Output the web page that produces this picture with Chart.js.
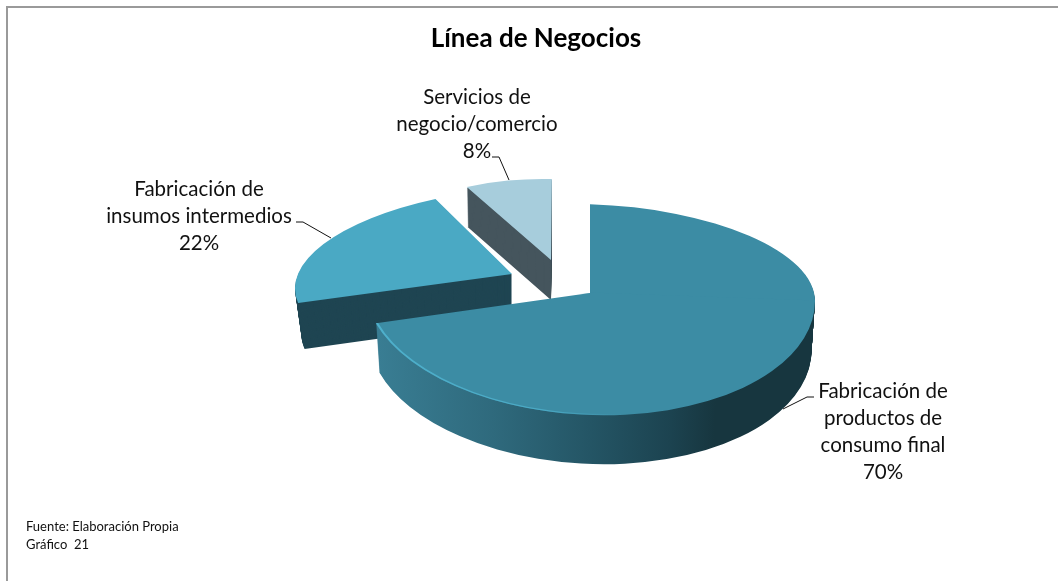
<!DOCTYPE html>
<html lang="es">
<head>
<meta charset="utf-8">
<title>Línea de Negocios</title>
<script src="https://cdn.jsdelivr.net/npm/chart.js@4"></script>
<style>
    html, body { margin: 0; padding: 0; background: #fff; }
    canvas { display: block; }
</style>
</head>
<body>
<canvas id="pieChart" width="1058" height="581"></canvas>
<script>
const categories = ['Fabricación de productos de consumo final', 'Fabricación de insumos intermedios', 'Servicios de negocio/comercio'];
const shares = [70, 22, 8];
const labelLines = [
    ['Fabricación de', 'productos de', 'consumo final'],
    ['Fabricación de', 'insumos intermedios'],
    ['Servicios de', 'negocio/comercio']
];
const footerLines = ['Fuente: Elaboración Propia', 'Gráfico  21'];

const FONT = "Lato, 'Open Sans', sans-serif";
const RADIUS = 225;

const topColors = ['#3c8ca4', '#4aa9c4', '#a7cddc'];
const sideColors = [null, '#1f4552', '#45555d'];

// 3D look: every slice gets its own flattening matrix around its apex (Excel's perspective
// is not a plain ellipse), a, b, c, d as in ctx.transform
const sliceViews = [
    { apex: [590, 293], tilt: 0.035, a: 1, b: 0, c: 0, d: 0.395, dFront: 0.542, depth: 49, foot: 0.985 },
    { apex: [512, 274], tilt: 0, a: 0.955, b: -0.01, c: -0.137, d: 0.386, depth: 46, foot: 0.97 },
    { apex: [551, 260], tilt: 0, a: 0.784, b: 0.019, c: -0.004, d: 0.36, depth: 40, foot: 0.99 }
];

const labelBoxes = [
    { x: 883, y: 391, leader: [[814, 397], [807, 397], [783, 409]] },
    { x: 199, y: 189, leader: [[296, 222], [303, 222], [331, 238]] },
    { x: 477, y: 97, leader: [[492, 157], [499, 157], [509, 180]] }
];

function enterView(ctx, arc, view, drop, squeeze, d, side) {
    ctx.translate(view.apex[0], view.apex[1] + drop);
    ctx.transform(1, view.tilt, 0, 1, 0, 0);
    if (side) {
        // back and front half of the main slice are flattened differently
        ctx.beginPath();
        ctx.rect(-1100, side < 0 ? -1100 : -0.5, 2200, 1100.5);
        ctx.clip();
    }
    ctx.transform(view.a * squeeze, view.b, view.c * squeeze, d, 0, 0);
    ctx.translate(-arc.x, -arc.y);
}

function drawFlat(ctx, arc, view, drop, squeeze) {
    const put = (d, side) => {
        ctx.save();
        enterView(ctx, arc, view, drop, squeeze, d, side);
        arc.draw(ctx);
        ctx.restore();
    };
    if (view.dFront) {
        put(view.d, -1);
        put(view.dFront, 1);
    } else {
        put(view.d, 0);
    }
}

// thin light rim along the front left of the main slice
function drawRim(ctx, arc, view) {
    ctx.save();
    enterView(ctx, arc, view, 0, 1, view.dFront, 1);
    const rim = ctx.createLinearGradient(arc.x - RADIUS, 0, arc.x + 30, 0);
    rim.addColorStop(0, 'rgba(78,176,204,1)');
    rim.addColorStop(0.7, 'rgba(78,176,204,0.8)');
    rim.addColorStop(1, 'rgba(78,176,204,0)');
    ctx.strokeStyle = rim;
    ctx.lineWidth = 2.4;
    ctx.beginPath();
    ctx.arc(arc.x, arc.y, RADIUS - 1, arc.endAngle, Math.PI * 0.45, true);
    ctx.stroke();
    ctx.restore();
}

const pie3d = {
    id: 'pie3d',
    beforeDraw(chart) {
        const ctx = chart.ctx;
        ctx.save();
        ctx.fillStyle = '#fff';
        ctx.fillRect(0, 0, 1058, 581);
        ctx.strokeStyle = '#9a9a9a';
        ctx.lineWidth = 2;
        ctx.beginPath();
        ctx.moveTo(7, 581);
        ctx.lineTo(7, 7);
        ctx.lineTo(1058, 7);
        ctx.stroke();
        ctx.restore();
    },
    // the library's own arcs are drawn here, back slices first
    beforeDatasetDraw(chart) {
        const ctx = chart.ctx;
        const arcs = chart.getDatasetMeta(0).data;

        const wall = ctx.createLinearGradient(arcs[0].x - RADIUS, 0, arcs[0].x + RADIUS, 0);
        wall.addColorStop(0, '#3a7f95');
        wall.addColorStop(0.28, '#2f6a7d');
        wall.addColorStop(0.5, '#245565');
        wall.addColorStop(0.68, '#1c4350');
        wall.addColorStop(0.78, '#17363f');
        wall.addColorStop(1, '#17363f');

        [2, 1, 0].forEach(i => {
            const arc = arcs[i];
            const view = sliceViews[i];
            const faceOptions = arc.options;
            arc.options = Object.assign({}, faceOptions, { backgroundColor: sideColors[i] || wall });
            for (let s = view.depth; s >= 1; s--) {
                drawFlat(ctx, arc, view, s, 1 - (1 - view.foot) * s / view.depth);
            }
            arc.options = faceOptions;
            drawFlat(ctx, arc, view, 0, 1);
        });
        drawRim(ctx, arcs[0], sliceViews[0]);
        return false;
    },
    afterDraw(chart) {
        const ctx = chart.ctx;
        ctx.save();
        ctx.fillStyle = '#111';
        ctx.strokeStyle = '#111';
        ctx.lineWidth = 1;
        ctx.font = '20.5px ' + FONT;
        ctx.textAlign = 'center';
        ctx.textBaseline = 'middle';
        labelBoxes.forEach((box, i) => {
            const lines = labelLines[i].concat(shares[i] + '%');
            lines.forEach((line, n) => ctx.fillText(line, box.x, box.y + n * 27.2));
            ctx.beginPath();
            box.leader.forEach((p, n) => n ? ctx.lineTo(p[0], p[1]) : ctx.moveTo(p[0], p[1]));
            ctx.stroke();
        });
        ctx.font = '13px ' + FONT;
        ctx.textAlign = 'left';
        footerLines.forEach((line, n) => ctx.fillText(line, 26, 527 + n * 18));
        ctx.restore();
    }
};

new Chart(document.getElementById('pieChart'), {
    type: 'pie',
    data: {
        labels: categories,
        datasets: [{
            data: shares,
            backgroundColor: topColors,
            borderWidth: 0
        }]
    },
    options: {
        responsive: false,
        animation: false,
        radius: RADIUS,
        layout: { padding: { left: 14 } },
        plugins: {
            legend: { display: false },
            tooltip: { enabled: false },
            title: {
                display: true,
                text: 'Línea de Negocios',
                color: '#000',
                font: { family: FONT, size: 26, weight: 'bold' },
                padding: { top: 23, bottom: 10 }
            }
        }
    },
    plugins: [pie3d]
});
</script>
</body>
</html>
